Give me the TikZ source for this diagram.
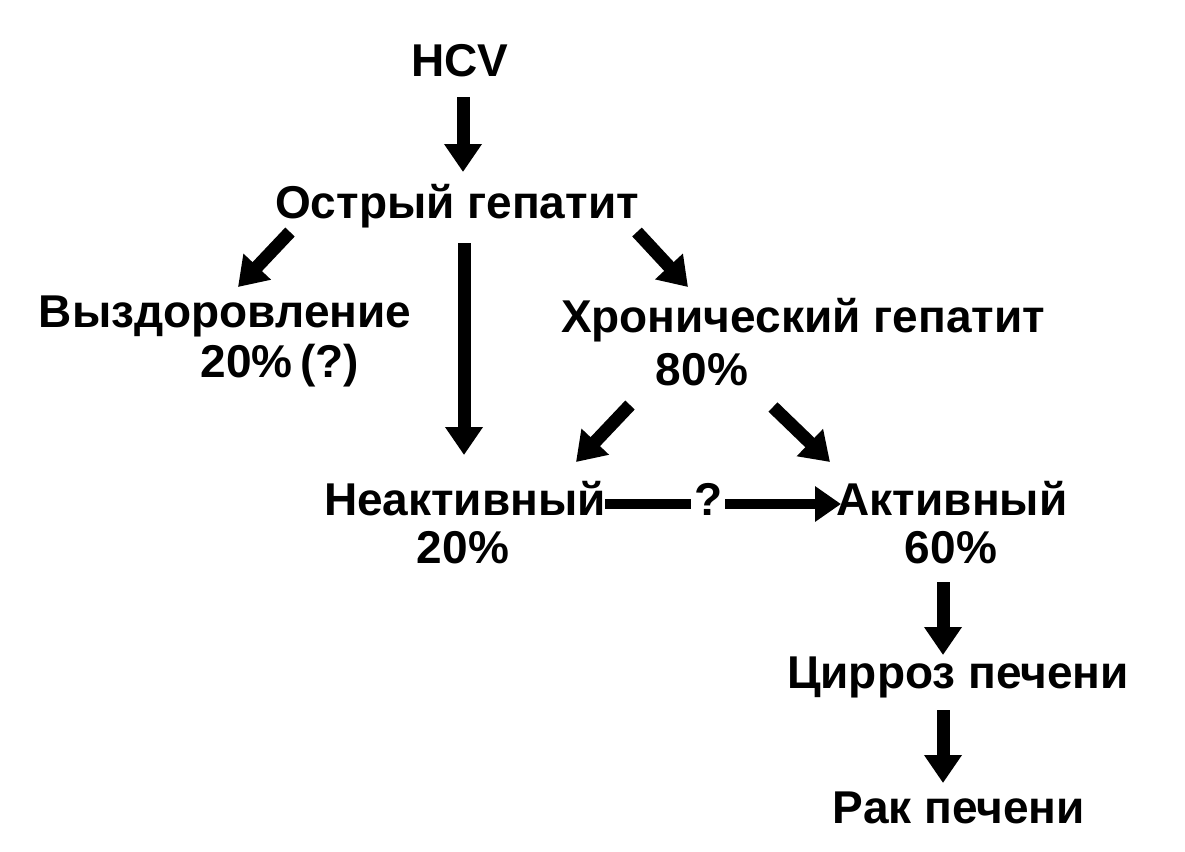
\documentclass[tikz,border=0pt]{standalone}
\usepackage{fontspec}
\setmainfont{Liberation Sans}
\usetikzlibrary{arrows.meta,calc}
\begin{document}
\begin{tikzpicture}[x=1pt,y=-1pt,
  lbl/.style={font=\bfseries\fontsize{46}{50}\selectfont, inner sep=0pt, anchor=base},
  arr/.style={line width=13pt, -{Triangle[width=36pt,length=28pt]}},
  thinarr/.style={line width=10pt, -{Triangle[width=34pt,length=26pt]}},
  bar/.style={line width=10pt}]
\useasboundingbox[fill=white] (0,0) rectangle (1185,851);
\node[lbl] (hcv)   at (460,77)  {HCV};
\node[lbl] (ostr)  at (457,218) {Острый гепатит};
\node[lbl] (vyzd)  at (225,327) {Выздоровление};
\node[lbl] (vyzdp) at (280,377) {20\%\,(?)};
\node[lbl] (hron)  at (803,332) {Хронический гепатит};
\node[lbl] (hronp) at (702,385) {80\%};
\node[lbl] (neak)  at (465,515) {Неактивный};
\node[lbl] (neakp) at (463,563) {20\%};
\node[lbl] (q)     at (709,515) {?};
\node[lbl] (akt)   at (952,515) {Активный};
\node[lbl] (aktp)  at (951,563) {60\%};
\node[lbl] (cirr)  at (958,688) {Цирроз печени};
\node[lbl] (rak)   at (959,823) {Рак печени};

\draw[arr] ($(hcv.base)+(3,20)$) -- ($(ostr.base)+(6,-46)$);
\draw[arr] ($(ostr.base)+(-167,14)$) -- ($(vyzd.base)+(13,-40)$);
\draw[arr] ($(ostr.base)+(7,25)$) -- ($(neak.base)+(-1,-60)$);
\draw[arr] ($(ostr.base)+(180,14)$) -- ($(hron.base)+(-115,-45)$);
\draw[arr] ($(hronp.base)+(-72,20)$) -- ($(neak.base)+(111,-53)$);
\draw[arr] ($(hronp.base)+(71,22)$) -- ($(akt.base)+(-122,-53)$);
\draw[bar] ($(neak.base)+(140,-11)$) -- ($(q.base)+(-18,-11)$);
\draw[thinarr] ($(q.base)+(16,-11)$) -- ($(akt.base)+(-111,-11)$);
\draw[arr] ($(aktp.base)+(-8,19)$) -- ($(cirr.base)+(-15,-33)$);
\draw[arr] ($(cirr.base)+(-15,22)$) -- ($(rak.base)+(-16,-40)$);
\end{tikzpicture}
\end{document}
